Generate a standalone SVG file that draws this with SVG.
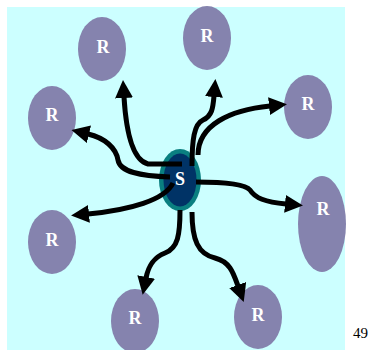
<svg xmlns="http://www.w3.org/2000/svg" width="370" height="350" viewBox="0 0 370 350">
  <style>
    .r { fill: #8583ae; }
    .lbl { font-family: "Liberation Serif", "Times New Roman", serif; font-weight: bold; font-size: 18px; fill: #ffffff; text-anchor: middle; }
    .arrow { fill: none; stroke: #000000; stroke-width: 5; marker-end: url(#head); }
    .pg { font-family: "Liberation Serif", "Times New Roman", serif; font-size: 15px; fill: #000000; }
  </style>
  <defs>
    <marker id="head" viewBox="0 0 18 18" refX="1" refY="9" markerWidth="18" markerHeight="18" markerUnits="userSpaceOnUse" orient="auto">
      <path d="M0,0 L18,9 L0,18 Z" fill="#000000"/>
    </marker>
  </defs>

  <!-- backdrop -->
  <rect x="7" y="7" width="338" height="343" fill="#ccffff"/>

  <!-- receivers -->
  <g id="r1"><ellipse class="r" cx="102" cy="49" rx="24" ry="32"/><text class="lbl" x="103" y="53">R</text></g>
  <g id="r2"><ellipse class="r" cx="207" cy="38" rx="24" ry="32"/><text class="lbl" x="207" y="42">R</text></g>
  <g id="r3"><ellipse class="r" cx="52" cy="118" rx="24" ry="32"/><text class="lbl" x="52" y="121">R</text></g>
  <g id="r4"><ellipse class="r" cx="308" cy="107" rx="24" ry="32"/><text class="lbl" x="308" y="110">R</text></g>
  <g id="r5"><ellipse class="r" cx="322" cy="224" rx="24" ry="48"/><text class="lbl" x="323" y="215">R</text></g>
  <g id="r6"><ellipse class="r" cx="52" cy="242" rx="24" ry="32"/><text class="lbl" x="52" y="246">R</text></g>
  <g id="r7"><ellipse class="r" cx="135" cy="321" rx="24" ry="32"/><text class="lbl" x="135" y="324">R</text></g>
  <g id="r8"><ellipse class="r" cx="258" cy="317" rx="24" ry="32"/><text class="lbl" x="258" y="321">R</text></g>

  <!-- sender -->
  <g id="s">
    <ellipse cx="180" cy="180" rx="21" ry="31" fill="#0a7f80"/>
    <ellipse cx="180" cy="180" rx="16.5" ry="26.5" fill="#003366"/>
    <text class="lbl" x="180" y="185">S</text>
  </g>

  <!-- connectors -->
  <g id="connectors">
    <path class="arrow" d="M182,164 L148,164 C132,160 126,130 124,97"/>
    <path class="arrow" d="M170,177 C140,176 120,172 118,160 C116,148 105,138 88,134"/>
    <path class="arrow" d="M173,183 C165,200 130,210 88,214"/>
    <path class="arrow" d="M196,182 C225,182 245,184 250,190 C255,198 265,202 286,204"/>
    <path class="arrow" d="M180,210 C180,235 178,248 165,253 C152,258 148,268 146,278"/>
    <path class="arrow" d="M192,212 C192,240 198,254 215,258 C230,262 233,272 238,286"/>
    <path class="arrow" d="M192,166 C192,140 194,124 203,120 C212,116 213,108 214,96"/>
    <path class="arrow" d="M198,155 C198,125 230,110 270,106"/>
  </g>

  <text class="pg" x="353" y="338">49</text>
</svg>
